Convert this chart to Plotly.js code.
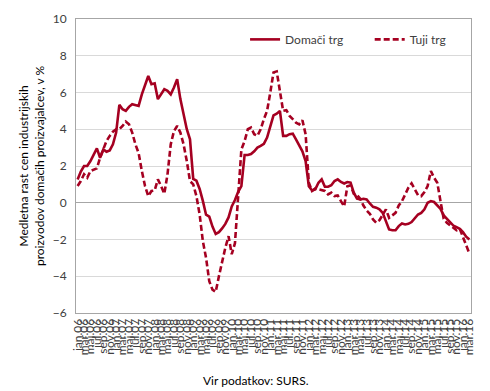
<!DOCTYPE html>
<html>
<head>
<meta charset="utf-8">
<script src="https://cdn.plot.ly/plotly-3.0.1.min.js"></script>
<style>html,body{margin:0;padding:0;background:#fff;}#chart{width:490px;height:391px;}</style>
</head>
<body>
<div id="chart"></div>
<script>
const monthNames = ['jan','feb','mar','apr','maj','jun','jul','avg','sep','okt','nov','dec'];
const startYear = 2006, endYear = 2016, endMonth = 3;
const categories = [];
for (let y = startYear; y <= endYear; y++) {
  for (let m = 0; m < 12; m++) {
    if (y === endYear && m >= endMonth) break;
    categories.push(monthNames[m] + '.' + String(y).slice(2));
  }
}
const tickLabels = categories.filter((c, i) => i % 2 === 0);

const domaciTrg = [
  1.27, 1.7, 2.0, 2.0, 2.27, 2.64, 2.96, 2.45, 2.9, 2.78, 2.85, 3.18,
  3.82, 5.33, 5.09, 5.0, 5.22, 5.36, 5.33, 5.27, 5.9, 6.45, 6.9, 6.45,
  6.5, 5.64, 5.9, 6.18, 6.09, 5.9, 6.27, 6.73, 5.64, 4.82, 4.0, 3.45,
  1.3, 1.2, 0.75, 0.1, -0.65, -0.75, -1.3, -1.7, -1.6, -1.4, -1.15, -0.8,
  -0.2, 0.15, 0.6, 0.9, 2.6, 2.6, 2.65, 2.8, 3.0, 3.09, 3.2, 3.55,
  4.1, 4.76, 4.85, 5.0, 3.64, 3.64, 3.73, 3.76, 3.45, 3.09, 2.8, 2.27,
  0.9, 0.67, 0.73, 1.09, 1.27, 0.87, 0.87, 0.95, 1.18, 1.27, 1.13, 1.05,
  1.13, 1.1, 0.55, 0.22, 0.18, 0.22, 0.18, -0.04, -0.22, -0.27, -0.36, -0.55,
  -1.0, -1.45, -1.5, -1.5, -1.27, -1.13, -1.18, -1.15, -1.05, -0.87, -0.64, -0.55,
  -0.36, 0.0, 0.09, 0.04, -0.15, -0.33, -0.69, -0.87, -1.05, -1.24, -1.33, -1.42,
  -1.6, -1.85, -2.0
];
const tujiTrg = [
  0.91, 1.18, 1.55, 1.36, 1.73, 1.82, 1.87, 2.45, 2.9, 3.36, 3.64, 3.87,
  4.0, 4.0, 4.18, 4.42, 4.27, 3.82, 3.18, 2.7, 1.73, 0.91, 0.36, 0.64,
  0.67, 1.27, 0.91, 0.49, 1.55, 3.18, 3.9, 4.18, 3.82, 3.18, 2.27, 1.18,
  1.0, 0.36, -0.64, -2.09, -3.0, -4.27, -4.73, -4.85, -4.0, -3.18, -2.45, -1.82,
  -2.8, -2.2, 0.3, 2.9, 3.36, 4.0, 4.09, 3.73, 3.64, 4.0, 4.55, 5.0,
  6.0, 7.09, 7.15, 6.0, 5.0, 5.04, 4.73, 4.55, 4.36, 4.27, 4.49, 3.73,
  1.09, 0.64, 0.78, 0.73, 0.7, 0.64, 0.45, 0.55, 0.36, 0.4, 0.09, -0.2,
  0.9, 0.95, 0.49, 0.42, 0.22, -0.15, -0.42, -0.6, -0.91, -1.09, -0.95, -0.64,
  -0.36, -0.82, -0.69, -0.55, -0.15, 0.09, 0.45, 0.82, 1.05, 0.69, 0.42, 0.36,
  0.58, 0.91, 1.73, 1.36, 1.09, 0.09, -0.87, -1.09, -1.24, -1.36, -1.5, -1.42,
  -1.9, -2.33, -2.76
];

const lineColor = '#A50021';
const fontFam = 'Lato, "Open Sans", sans-serif';
const pad = '\u00a0'.repeat(7);

const traces = [
  {x: categories, y: domaciTrg, type: 'scatter', mode: 'lines', name: 'Domači trg' + pad,
   line: {color: lineColor, width: 2.6}},
  {x: categories, y: tujiTrg, type: 'scatter', mode: 'lines', name: 'Tuji trg',
   line: {color: lineColor, width: 2.6, dash: '6px,3px'}}
];

const layout = {
  width: 490, height: 391,
  margin: {l: 76, r: 19, t: 19, b: 78},
  paper_bgcolor: '#fff', plot_bgcolor: '#fff',
  font: {family: fontFam, color: '#404040', size: 12},
  showlegend: true,
  legend: {orientation: 'h', x: 0.428, y: 0.98, xanchor: 'left', yanchor: 'top',
           bgcolor: 'rgba(255,255,255,0)', font: {size: 12, color: '#404040'}},
  xaxis: {
    type: 'category', tickmode: 'array', tickvals: tickLabels, ticktext: tickLabels,
    tickangle: -90, tickfont: {size: 12, color: '#404040'},
    showgrid: false, showline: true, linecolor: '#a6a6a6', linewidth: 1, mirror: true,
    ticks: '', zeroline: false, range: [-0.5, categories.length - 0.5]
  },
  yaxis: {
    range: [-6, 10], dtick: 2, tick0: 0,
    showgrid: true, gridcolor: '#d9d9d9', gridwidth: 1,
    zeroline: true, zerolinecolor: '#a6a6a6', zerolinewidth: 1,
    showline: true, linecolor: '#a6a6a6', linewidth: 1, mirror: true,
    tickfont: {size: 12, color: '#404040'}, ticklabelstandoff: 6,
    title: {text: 'Medletna rast cen industrijskih<br>proizvodov domačih proizvajalcev, v %',
            font: {size: 12, color: '#000'}, standoff: 5}
  },
  annotations: [{
    text: 'Vir podatkov: SURS.', xref: 'paper', yref: 'paper', x: 0.455, y: -0.228,
    xanchor: 'center', yanchor: 'middle', showarrow: false, font: {size: 12, color: '#000'}
  }]
};

Plotly.newPlot('chart', traces, layout, {displayModeBar: false, staticPlot: true});
</script>
</body>
</html>
